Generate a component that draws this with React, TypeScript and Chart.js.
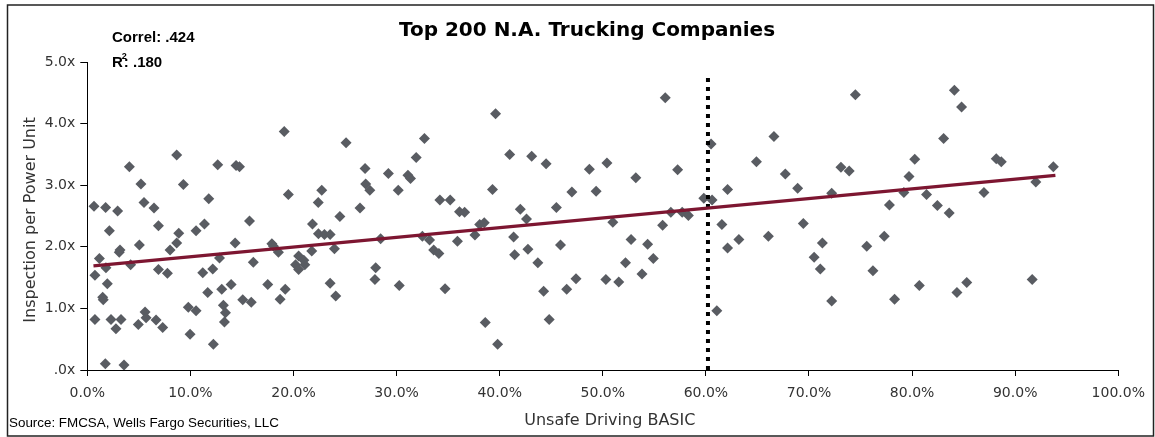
import React, { useEffect, useRef } from "react";
import { Chart, registerables } from "chart.js";

Chart.register(...registerables);

const W = 1155;
const H = 437;

// Unsafe Driving BASIC (%) for each company
const xValues = [
  0.65, 1.78, 2.94, 4.08, 5.2, 5.5, 6.47, 6.9, 8.67, 9.32, 2.14, 1.17, 0.74, 1.81, 1.94, 1.49, 1.55, 3.1, 3.17, 4.2,
  5.05, 6.9, 7.77, 8.03, 8.67, 8.87, 0.74, 2.3, 2.78, 3.27, 1.75, 3.56, 4.95, 5.6, 5.7, 6.67, 7.31, 9.8, 10.55, 9.97,
  10.55, 11.36, 11.78, 12.65, 14.43, 14.76, 15.73, 14.34, 11.2, 12.17, 12.82, 11.68, 13.04, 13.95, 13.2, 13.4, 13.3, 12.23, 15.08, 15.9,
  16.1, 17.5, 17.9, 18.06, 18.54, 19.1, 19.5, 19.2, 18.7, 20.2, 20.5, 20.5,
  21.1, 21.0, 21.84, 21.77, 22.4, 22.74, 22.42, 23.0, 23.55, 23.97, 23.55, 24.1, 24.5, 25.1, 26.45, 26.94, 27.0, 27.4,
  28.45, 27.97, 27.9, 29.2, 30.16, 30.26, 31.1, 31.35, 31.9, 32.7, 32.5, 33.2, 33.6, 34.1, 34.2, 35.2, 36.1, 36.6, 35.9, 34.7,
  37.6, 38.06, 38.5, 39.3, 39.6, 38.6, 39.8,
  40.97, 43.1, 44.5, 42.0, 42.6, 41.35, 41.45, 42.74, 43.7, 44.26, 44.8, 45.5, 45.9, 46.5, 47.4, 47.0, 48.7, 49.35, 50.4, 50.97,
  50.3, 51.55, 52.2, 52.74, 53.2, 53.8, 54.35, 54.9, 55.8, 56.06, 56.6, 57.26, 57.7, 58.3,
  59.8, 60.6, 60.5, 61.06, 61.55, 62.1, 62.1, 63.2, 64.9, 66.06, 66.6, 67.7, 68.9, 69.45, 70.5, 71.1, 71.3, 72.2, 72.2, 73.1,
  73.9, 74.5, 75.6, 76.2, 77.3, 77.8, 78.3,
  79.2, 79.7, 80.26, 80.7, 81.4, 82.45, 83.06, 83.6, 84.1, 84.8, 84.35, 85.3, 86.97, 88.16, 88.65, 91.65, 92.0, 93.7,
];

// Inspections per power unit for each company (same order)
const yValues = [
  2.66, 2.64, 2.58, 3.3, 3.02, 2.72, 2.63, 2.34, 3.49, 3.01, 2.26, 1.81, 1.54, 1.66, 1.4, 1.18, 1.14, 1.91, 1.95, 1.71,
  2.03, 1.63, 1.57, 1.95, 2.06, 2.22, 0.82, 0.82, 0.67, 0.82, 0.1, 0.08, 0.74, 0.94, 0.85, 0.81, 0.69, 1.02, 0.96, 0.58,
  2.26, 2.37, 2.78, 3.33, 3.32, 3.3, 2.42, 2.06, 1.58, 1.64, 1.82, 1.26, 1.31, 1.39, 1.05, 0.93, 0.78, 0.42, 1.14, 1.1,
  1.75, 1.39, 2.05, 2.01, 1.91, 3.87, 2.85, 1.31, 1.15, 1.71, 1.63, 1.85,
  1.71, 1.78, 2.37, 1.93, 2.72, 2.92, 2.21, 2.2, 2.2, 1.97, 1.41, 1.2, 2.49, 3.69, 2.63, 3.27, 3.02, 2.92,
  2.13, 1.66, 1.47, 3.19, 2.92, 1.37, 3.16, 3.11, 3.45, 3.76, 2.17, 2.11, 1.95, 1.89, 2.76, 2.76, 2.57, 2.56, 2.09, 1.32,
  2.19, 2.36, 2.39, 2.93, 4.16, 0.77, 0.42,
  3.5, 3.47, 3.35, 2.61, 2.45, 2.16, 1.87, 1.96, 1.74, 1.28, 0.82, 2.64, 2.03, 1.31, 1.48, 2.89, 3.26, 2.9, 3.36, 2.4,
  1.47, 1.43, 1.74, 2.12, 3.12, 1.56, 2.04, 1.81, 2.35, 4.42, 2.56, 3.25, 2.56, 2.51,
  2.79, 2.76, 3.67, 0.96, 2.36, 2.93, 1.98, 2.12, 3.38, 2.17, 3.79, 3.18, 2.95, 2.38, 1.83, 1.64, 2.06, 2.87, 1.12, 3.29,
  3.23, 4.47, 2.01, 1.61, 2.17, 2.68, 1.15,
  2.88, 3.14, 3.42, 1.37, 2.85, 2.67, 3.76, 2.55, 4.54, 4.27, 1.26, 1.42, 2.88, 3.43, 3.38, 1.47, 3.05, 3.3,
];

// Trend line endpoints
const trendX = [0.6, 93.9];
const trendY = [1.69, 3.16];

// Vertical dotted threshold line
const thresholdX = 60.2;
const thresholdY = [0, 4.82];

const xTickStep = 10;
const yTickStep = 1;

const TITLE = "Top 200 N.A. Trucking Companies";
const X_TITLE = "Unsafe Driving BASIC";
const Y_TITLE = "Inspection per Power Unit";
const CORREL = "Correl: .424";
const R2_VALUE = ": .180";
const SOURCE = "Source: FMCSA, Wells Fargo Securities, LLC";

const DOT_COLOR = "#595c62";
const TREND_COLOR = "#7d1631";
const TEXT_COLOR = "#333333";

const overlay = {
  id: "overlay",
  beforeDraw(chart: any) {
    const ctx = chart.ctx;
    ctx.save();
    ctx.fillStyle = "#ffffff";
    ctx.fillRect(0, 0, chart.width, chart.height);
    ctx.restore();
  },
  afterDraw(chart: any) {
    const ctx = chart.ctx;
    const area = chart.chartArea;
    ctx.save();
    // frame
    ctx.strokeStyle = "#222222";
    ctx.lineWidth = 1.5;
    ctx.strokeRect(7.5, 5, 1146, 431);

    // title
    ctx.fillStyle = "#000000";
    ctx.font = "bold 20px 'DejaVu Sans'";
    ctx.textAlign = "center";
    ctx.textBaseline = "middle";
    ctx.fillText(TITLE, 587, 31);

    // axis titles
    ctx.fillStyle = TEXT_COLOR;
    ctx.font = "16px 'DejaVu Sans'";
    ctx.fillText(X_TITLE, (area.left + area.right) / 2 + 7, 421);
    ctx.save();
    ctx.translate(31, (area.top + area.bottom) / 2 + 4);
    ctx.rotate(-Math.PI / 2);
    ctx.fillText(Y_TITLE, 0, 0);
    ctx.restore();

    // correlation text
    ctx.fillStyle = "#000000";
    ctx.textAlign = "left";
    ctx.font = "bold 15px 'Liberation Sans'";
    ctx.fillText(CORREL, 112, 38);
    ctx.fillText("R", 112, 63);
    const rw = ctx.measureText("R").width;
    ctx.font = "bold 9px 'Liberation Sans'";
    ctx.fillText("2", 112 + rw - 1, 57);
    ctx.font = "bold 15px 'Liberation Sans'";
    ctx.fillText(R2_VALUE, 112 + rw + 1, 63);

    // source
    ctx.font = "13.4px 'Liberation Sans'";
    ctx.fillText(SOURCE, 9, 423);
    ctx.restore();
  },
};

export default function App() {
  const ref = useRef<HTMLCanvasElement>(null);

  useEffect(() => {
    document.body.style.margin = "0";
    const points = xValues.map((x, i) => ({ x, y: yValues[i] }));
    const tickFont = { family: "'DejaVu Sans'", size: 14 };
    const chart = new Chart(ref.current as HTMLCanvasElement, {
      type: "scatter",
      data: {
        datasets: [
          {
            type: "line",
            data: trendX.map((x, i) => ({ x, y: trendY[i] })),
            borderColor: TREND_COLOR,
            borderWidth: 3.2,
            pointRadius: 0,
            fill: false,
          } as any,
          {
            type: "line",
            data: thresholdY.map((y) => ({ x: thresholdX, y })),
            borderColor: "#000000",
            borderWidth: 4,
            borderDash: [4, 5],
            borderCapStyle: "butt",
            pointRadius: 0,
            fill: false,
          } as any,
          {
            type: "scatter",
            data: points,
            pointStyle: "rectRot",
            pointRadius: 5.5,
            pointHoverRadius: 5.5,
            backgroundColor: DOT_COLOR,
            borderColor: DOT_COLOR,
            borderWidth: 0,
          } as any,
        ],
      },
      options: {
        responsive: false,
        animation: false,
        devicePixelRatio: 1,
        layout: { padding: { left: 0, top: 62, right: 36.7, bottom: 0 } },
        plugins: {
          legend: { display: false },
          title: { display: false },
          tooltip: { enabled: false },
        },
        scales: {
          x: {
            type: "linear",
            min: 0,
            max: 100,
            afterFit: (s: any) => {
              s.height = 67;
            },
            ticks: {
              stepSize: xTickStep,
              callback: (v: any) => Number(v).toFixed(1) + "%",
              font: tickFont,
              color: TEXT_COLOR,
              padding: 9,
              maxRotation: 0,
              autoSkip: false,
            },
            grid: { drawOnChartArea: false, drawTicks: true, tickLength: 6, color: "#000000" },
            border: { display: true, color: "#000000", width: 1 },
          },
          y: {
            type: "linear",
            min: 0,
            max: 5,
            afterFit: (s: any) => {
              s.width = 87.3;
            },
            ticks: {
              stepSize: yTickStep,
              callback: (v: any) => (Number(v) === 0 ? ".0x" : Number(v).toFixed(1) + "x"),
              font: tickFont,
              color: TEXT_COLOR,
              padding: 5,
            },
            grid: { drawOnChartArea: false, drawTicks: true, tickLength: 7, color: "#000000" },
            border: { display: true, color: "#000000", width: 1 },
          },
        },
      },
      plugins: [overlay],
    });
    return () => chart.destroy();
  }, []);

  return (
    <div style={{ position: "absolute", left: 0, top: 0, width: W, height: H }}>
      <canvas ref={ref} width={W} height={H} style={{ display: "block", width: W, height: H }} />
    </div>
  );
}
